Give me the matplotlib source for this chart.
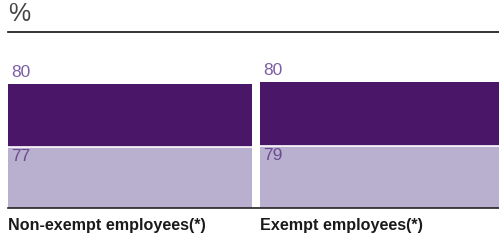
import matplotlib
matplotlib.use("Agg")
import matplotlib.pyplot as plt

# datos
categorias = ["Non-exempt employees(*)", "Exempt employees(*)"]
valores_base = [77, 79]      # segmento claro (abajo)
valores_sup = [80, 80]       # segmento oscuro (arriba)

color_oscuro = "#4a1768"
color_claro = "#b9afcf"

plt.rcParams["font.family"] = ["Liberation Sans", "DejaVu Sans"]

fig = plt.figure(figsize=(4.99, 2.4), dpi=100)

# ejes: de x=8px a 499px, de y=32px a 208px
ax = fig.add_axes([8 / 499, (240 - 208) / 240, 491 / 499, 176 / 240])

ancho = 244 / 252
pos = list(range(len(categorias)))

ax.bar(pos, valores_base, width=ancho, color=color_claro, edgecolor="none")
ax.bar(pos, valores_sup, width=ancho, bottom=valores_base, color=color_oscuro, edgecolor="none")
# linea blanca entre segmentos
for i in pos:
    ax.plot([i - ancho / 2, i + ancho / 2], [valores_base[i], valores_base[i]], color="white", lw=1.2)

ax.set_xlim(-ancho / 2, -ancho / 2 + 491 / 252)
ax.set_ylim(0, 176 / 0.79)

for i in pos:
    x0 = i - ancho / 2
    total = valores_base[i] + valores_sup[i]
    ax.annotate(str(valores_sup[i]), xy=(x0, total), xytext=(2.5, 3), textcoords="offset points",
                ha="left", va="bottom", fontsize=12.5, color="#7d5ea6")
    ax.annotate(str(valores_base[i]), xy=(x0, valores_base[i]), xytext=(2.5, -1.5), textcoords="offset points",
                ha="left", va="top", fontsize=12.5, color="#6a4a92")
    ax.annotate(categorias[i], xy=(x0, 0), xytext=(0, -7.5), textcoords="offset points",
                ha="left", va="top", fontsize=11.6, fontweight="bold", color="#1a1a1a")

for s in ["left", "right"]:
    ax.spines[s].set_visible(False)
ax.spines["bottom"].set_color("#222222")
ax.spines["bottom"].set_linewidth(1.2)
ax.spines["top"].set_color("#111111")
ax.spines["top"].set_linewidth(1.2)
ax.set_xticks([])
ax.set_yticks([])

fig.text(8 / 499, 1 - 2 / 240, "%", ha="left", va="top", fontsize=18, color="#444444")

fig.savefig("out.png", dpi=100)
